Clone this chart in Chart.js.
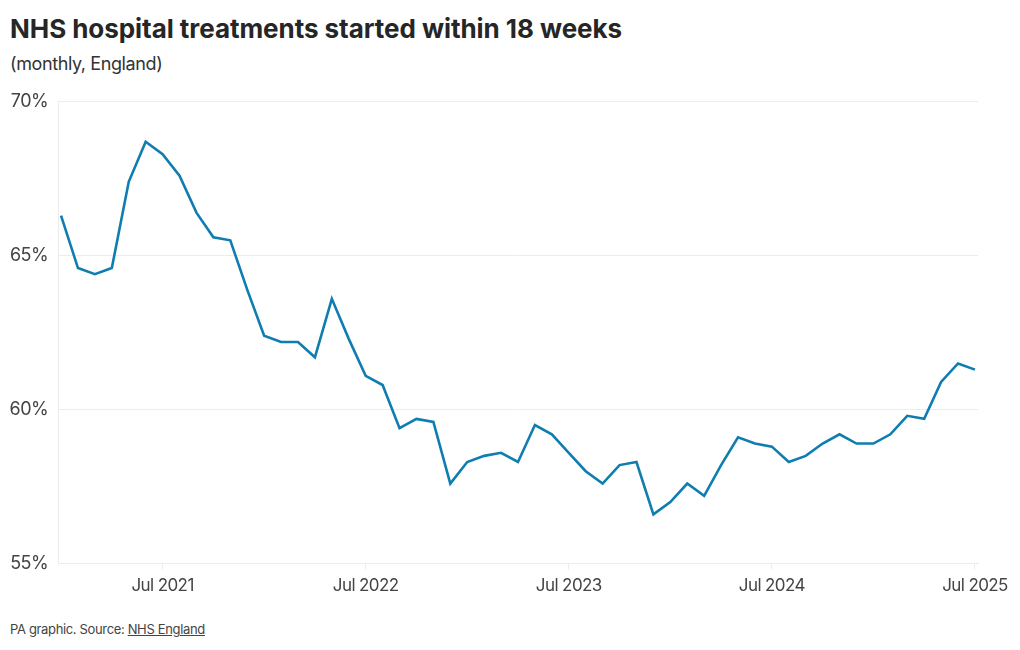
<!DOCTYPE html>
<html>
<head>
<meta charset="utf-8">
<script src="https://cdn.jsdelivr.net/npm/chart.js@4"></script>
<style>
  html, body { margin: 0; padding: 0; background: #fff; }
  body { width: 1020px; height: 650px; position: relative; overflow: hidden; font-family: Inter, 'Noto Sans', sans-serif; color: #222; }
  #title { position: absolute; left: 10px; top: 13px; font-size: 26px; font-weight: 700; letter-spacing: -0.05px; color: #262626; }
  #subtitle { position: absolute; left: 10px; top: 53px; font-size: 18px; letter-spacing: -0.4px; color: #333; }
  #footer { position: absolute; left: 10px; top: 621px; font-size: 13px; letter-spacing: -0.35px; color: #444; }
  #footer span { text-decoration: underline; }
  #wrap { position: absolute; left: 0; top: 81px; width: 1020px; height: 521px; }
</style>
</head>
<body>
<div id="title">NHS hospital treatments started within 18 weeks</div>
<div id="subtitle">(monthly, England)</div>
<div id="wrap"><canvas id="chart"></canvas></div>
<div id="footer">PA graphic. Source: <span>NHS England</span></div>
<script>
// monthly, Jan 2021 .. Jul 2025
const months = [
  'Jan 2021', 'Feb 2021', 'Mar 2021', 'Apr 2021', 'May 2021', 'Jun 2021', 'Jul 2021', 'Aug 2021', 'Sep 2021', 'Oct 2021', 'Nov 2021', 'Dec 2021',
  'Jan 2022', 'Feb 2022', 'Mar 2022', 'Apr 2022', 'May 2022', 'Jun 2022', 'Jul 2022', 'Aug 2022', 'Sep 2022', 'Oct 2022', 'Nov 2022', 'Dec 2022',
  'Jan 2023', 'Feb 2023', 'Mar 2023', 'Apr 2023', 'May 2023', 'Jun 2023', 'Jul 2023', 'Aug 2023', 'Sep 2023', 'Oct 2023', 'Nov 2023', 'Dec 2023',
  'Jan 2024', 'Feb 2024', 'Mar 2024', 'Apr 2024', 'May 2024', 'Jun 2024', 'Jul 2024', 'Aug 2024', 'Sep 2024', 'Oct 2024', 'Nov 2024', 'Dec 2024',
  'Jan 2025', 'Feb 2025', 'Mar 2025', 'Apr 2025', 'May 2025', 'Jun 2025', 'Jul 2025'
];

const percentWithin18 = [
  66.3, 64.6, 64.4, 64.6, 67.4, 68.7, 68.3, 67.6, 66.4, 65.6, 65.5, 63.9,
  62.4, 62.2, 62.2, 61.7, 63.6, 62.3, 61.1, 60.8, 59.4, 59.7, 59.6, 57.6,
  58.3, 58.5, 58.6, 58.3, 59.5, 59.2, 58.6, 58.0, 57.6, 58.2, 58.3, 56.6,
  57.0, 57.6, 57.2, 58.2, 59.1, 58.9, 58.8, 58.3, 58.5, 58.9, 59.2, 58.9,
  58.9, 59.2, 59.8, 59.7, 60.9, 61.5, 61.3
];

const xTickLabels = ['Jul 2021', 'Jul 2022', 'Jul 2023', 'Jul 2024', 'Jul 2025'];
const yTicks = [55, 60, 65, 70];

const lineColor = '#0f7db0';
const gridColor = '#ececec';
const tickColor = '#444';

const points = percentWithin18.map((v, i) => ({ x: i, y: v }));

const tightText = {
  id: 'tightText',
  beforeDraw(chart) {
    chart.ctx.letterSpacing = '-0.6px';
  }
};

new Chart(document.getElementById('chart'), {
  type: 'line',
  data: {
    datasets: [{
      label: 'Treatments started within 18 weeks',
      data: points,
      borderColor: lineColor,
      borderWidth: 2.6,
      pointRadius: 0,
      tension: 0,
      fill: false
    }]
  },
  plugins: [tightText],
  options: {
    responsive: true,
    maintainAspectRatio: false,
    animation: false,
    layout: { padding: { left: 10, right: 42, top: 12, bottom: 0 } },
    plugins: {
      legend: { display: false },
      tooltip: { enabled: false }
    },
    scales: {
      x: {
        type: 'linear',
        min: -0.18,
        max: 54.18,
        afterBuildTicks(scale) {
          scale.ticks = xTickLabels.map(l => ({ value: months.indexOf(l) }));
        },
        grid: { drawOnChartArea: false, drawTicks: true, tickLength: 6, color: gridColor },
        border: { display: true, color: gridColor },
        ticks: {
          color: tickColor,
          font: { family: 'Inter', size: 17 },
          padding: 6,
          maxRotation: 0,
          callback: v => months[v]
        }
      },
      y: {
        min: 55,
        max: 70,
        afterBuildTicks(scale) {
          scale.ticks = yTicks.map(v => ({ value: v }));
        },
        afterFit(scale) { scale.width = 48; },
        grid: { color: gridColor, drawTicks: false },
        border: { display: true, color: gridColor },
        ticks: {
          color: tickColor,
          font: { family: 'Inter', size: 18 },
          padding: 10,
          callback: v => v + '%'
        }
      }
    }
  }
});
</script>
</body>
</html>
